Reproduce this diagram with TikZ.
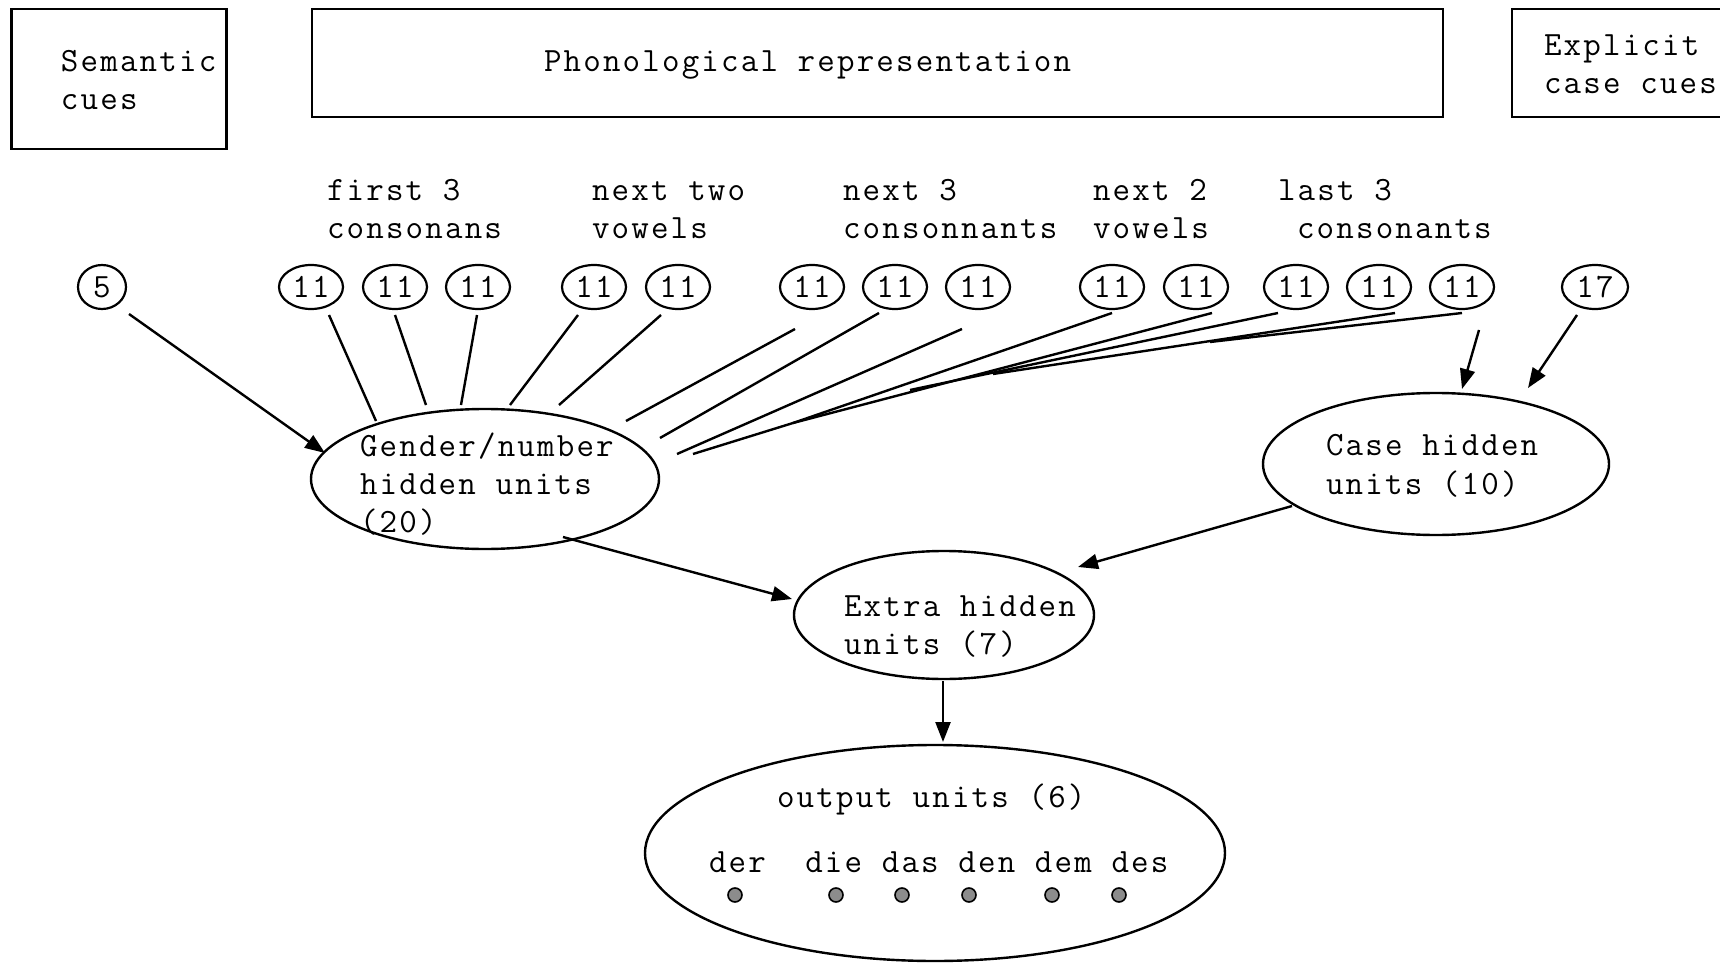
\documentclass[tikz,border=0pt]{standalone}
\usepackage{fontspec}
\setmonofont{Latin Modern Mono}[LetterSpace=6.4]
\usetikzlibrary{shapes.geometric,arrows.meta}
\begin{document}
\begin{tikzpicture}[x=0.5pt,y=-0.5pt,
  every node/.style={inner sep=0pt, outer sep=0pt},
  txt/.style={anchor=base west, font=\fontsize{17}{19.2}\selectfont\ttfamily},
  unit/.style={draw, ellipse, line width=1.1pt, minimum width=32pt, minimum height=22pt, font=\fontsize{17}{19.2}\selectfont\ttfamily},
  big/.style={draw, ellipse, line width=1.2pt},
  box/.style={draw, line width=1.2pt},
  ln/.style={line width=1.2pt},
  arr/.style={line width=1.2pt, -{Triangle[length=10pt,width=7.5pt]}},
  outdot/.style={draw, circle, fill=black!45, line width=0.8pt, minimum size=7pt}
]
\useasboundingbox (0,0) rectangle (1720,963);

% boxes
\node[box, minimum width=107.5pt, minimum height=70pt] (sembox) at (119,79) {};
\node[txt] (sem1) at (61,72) {Semantic};
\node[txt] (sem2) at (61,110) {cues};
\node[box, minimum width=565.5pt, minimum height=54pt] (phonbox) at (877.5,63) {};
\node[txt] (phon) at (544,72) {Phonological representation};
\coordinate (exA) at (1724,9);
\coordinate (exB) at (1512,9);
\coordinate (exC) at (1512,117);
\coordinate (exD) at (1724,117);
\draw[ln] (exA) -- (exB) -- (exC) -- (exD);
\node[txt] (ex1) at (1544,56) {Explicit};
\node[txt] (ex2) at (1544,94) {case cues};

% group labels
\node[txt] (g1a) at (327,200) {first 3};
\node[txt] (g1b) at (327,238) {consonans};
\node[txt] (g2a) at (592,200) {next two};
\node[txt] (g2b) at (592,238) {vowels};
\node[txt] (g3a) at (843,200) {next 3};
\node[txt] (g3b) at (843,238) {consonnants};
\node[txt] (g4a) at (1093,200) {next 2};
\node[txt] (g4b) at (1093,238) {vowels};
\node[txt] (g5a) at (1278,200) {last 3};
\node[txt] (g5b) at (1297,238) {consonants};

% input units
\node[unit, minimum width=24pt] (u5) at (102,287) {5};
\node[unit] (p1) at (311,287) {11};
\node[unit] (p2) at (395,287) {11};
\node[unit] (p3) at (478,287) {11};
\node[unit] (p4) at (594,287) {11};
\node[unit] (p5) at (678,287) {11};
\node[unit] (p6) at (812,287) {11};
\node[unit] (p7) at (895,287) {11};
\node[unit] (p8) at (978,287) {11};
\node[unit] (p9) at (1112,287) {11};
\node[unit] (p10) at (1196,287) {11};
\node[unit] (p11) at (1296,287) {11};
\node[unit] (p12) at (1379,287) {11};
\node[unit] (p13) at (1462,287) {11};
\node[unit, minimum width=33pt] (u17) at (1595,287) {17};

% hidden layers
\node[big, minimum width=174pt, minimum height=70pt] (gen) at (485,479) {};
\node[txt] (gen1) at (360,456) {Gender/number};
\node[txt] (gen2) at (360,494) {hidden units};
\node[txt] (gen3) at (360,532) {(20)};
\node[big, minimum width=173pt, minimum height=71pt] (case) at (1436,464) {};
\node[txt] (case1) at (1326,455) {Case hidden};
\node[txt] (case2) at (1326,494) {units (10)};
\node[big, minimum width=150pt, minimum height=64pt] (extra) at (944,615) {};
\node[txt] (extra1) at (844,616) {Extra hidden};
\node[txt] (extra2) at (844,654) {units (7)};
\node[big, minimum width=290pt, minimum height=108pt] (out) at (935,853) {};
\node[txt] (out1) at (777,807) {output units (6)};
\node[txt] (out2) at (709,872) {der\ \ die das den dem des};
\node[outdot] (d1) at (735,895) {};
\node[outdot] (d2) at (836,895) {};
\node[outdot] (d3) at (902,895) {};
\node[outdot] (d4) at (969,895) {};
\node[outdot] (d5) at (1052,895) {};
\node[outdot] (d6) at (1119,895) {};

% fan of connections into gender/number units
\coordinate (a1) at (329,315);  \coordinate (b1) at (376,421);
\coordinate (a2) at (395,315);  \coordinate (b2) at (426,405);
\coordinate (a3) at (477,315);  \coordinate (b3) at (461,405);
\coordinate (a4) at (578,315);  \coordinate (b4) at (510,405);
\coordinate (a5) at (661,315);  \coordinate (b5) at (559,405);
\coordinate (a6) at (795,329);  \coordinate (b6) at (626,421);
\coordinate (a7) at (879,313);  \coordinate (b7) at (660,438);
\coordinate (a8) at (962,329);  \coordinate (b8) at (677,454);
\coordinate (a9) at (1112,313); \coordinate (m9) at (793,423);
\coordinate (b10) at (693,454); \coordinate (a10) at (1212,313);
\coordinate (a11) at (1278,313); \coordinate (b11) at (910,390);
\coordinate (a12) at (1395,313); \coordinate (b12) at (993,374);
\coordinate (a13) at (1462,313); \coordinate (b13) at (1210,342);
\draw[ln] (a1) -- (b1);
\draw[ln] (a2) -- (b2);
\draw[ln] (a3) -- (b3);
\draw[ln] (a4) -- (b4);
\draw[ln] (a5) -- (b5);
\draw[ln] (a6) -- (b6);
\draw[ln] (a7) -- (b7);
\draw[ln] (a8) -- (b8);
\draw[ln] (a9) -- (m9);
\draw[ln] (b10) -- (m9) -- (a10);
\draw[ln] (a11) -- (b11);
\draw[ln] (a12) -- (b12);
\draw[ln] (a13) -- (b13);

% arrows
\coordinate (s5) at (129,314);   \coordinate (t5) at (325,453);
\coordinate (s13) at (1479,330); \coordinate (t13) at (1462,389);
\coordinate (s17) at (1577,315); \coordinate (t17) at (1528,388);
\coordinate (sg) at (563,537);   \coordinate (tg) at (792,599);
\coordinate (sc) at (1292,506);  \coordinate (tc) at (1078,567);
\coordinate (se) at (943,681);   \coordinate (te) at (943,742);
\draw[arr] (s5) -- (t5);
\draw[arr] (s13) -- (t13);
\draw[arr] (s17) -- (t17);
\draw[arr] (sg) -- (tg);
\draw[arr] (sc) -- (tc);
\draw[arr] (se) -- (te);
\end{tikzpicture}
\end{document}
